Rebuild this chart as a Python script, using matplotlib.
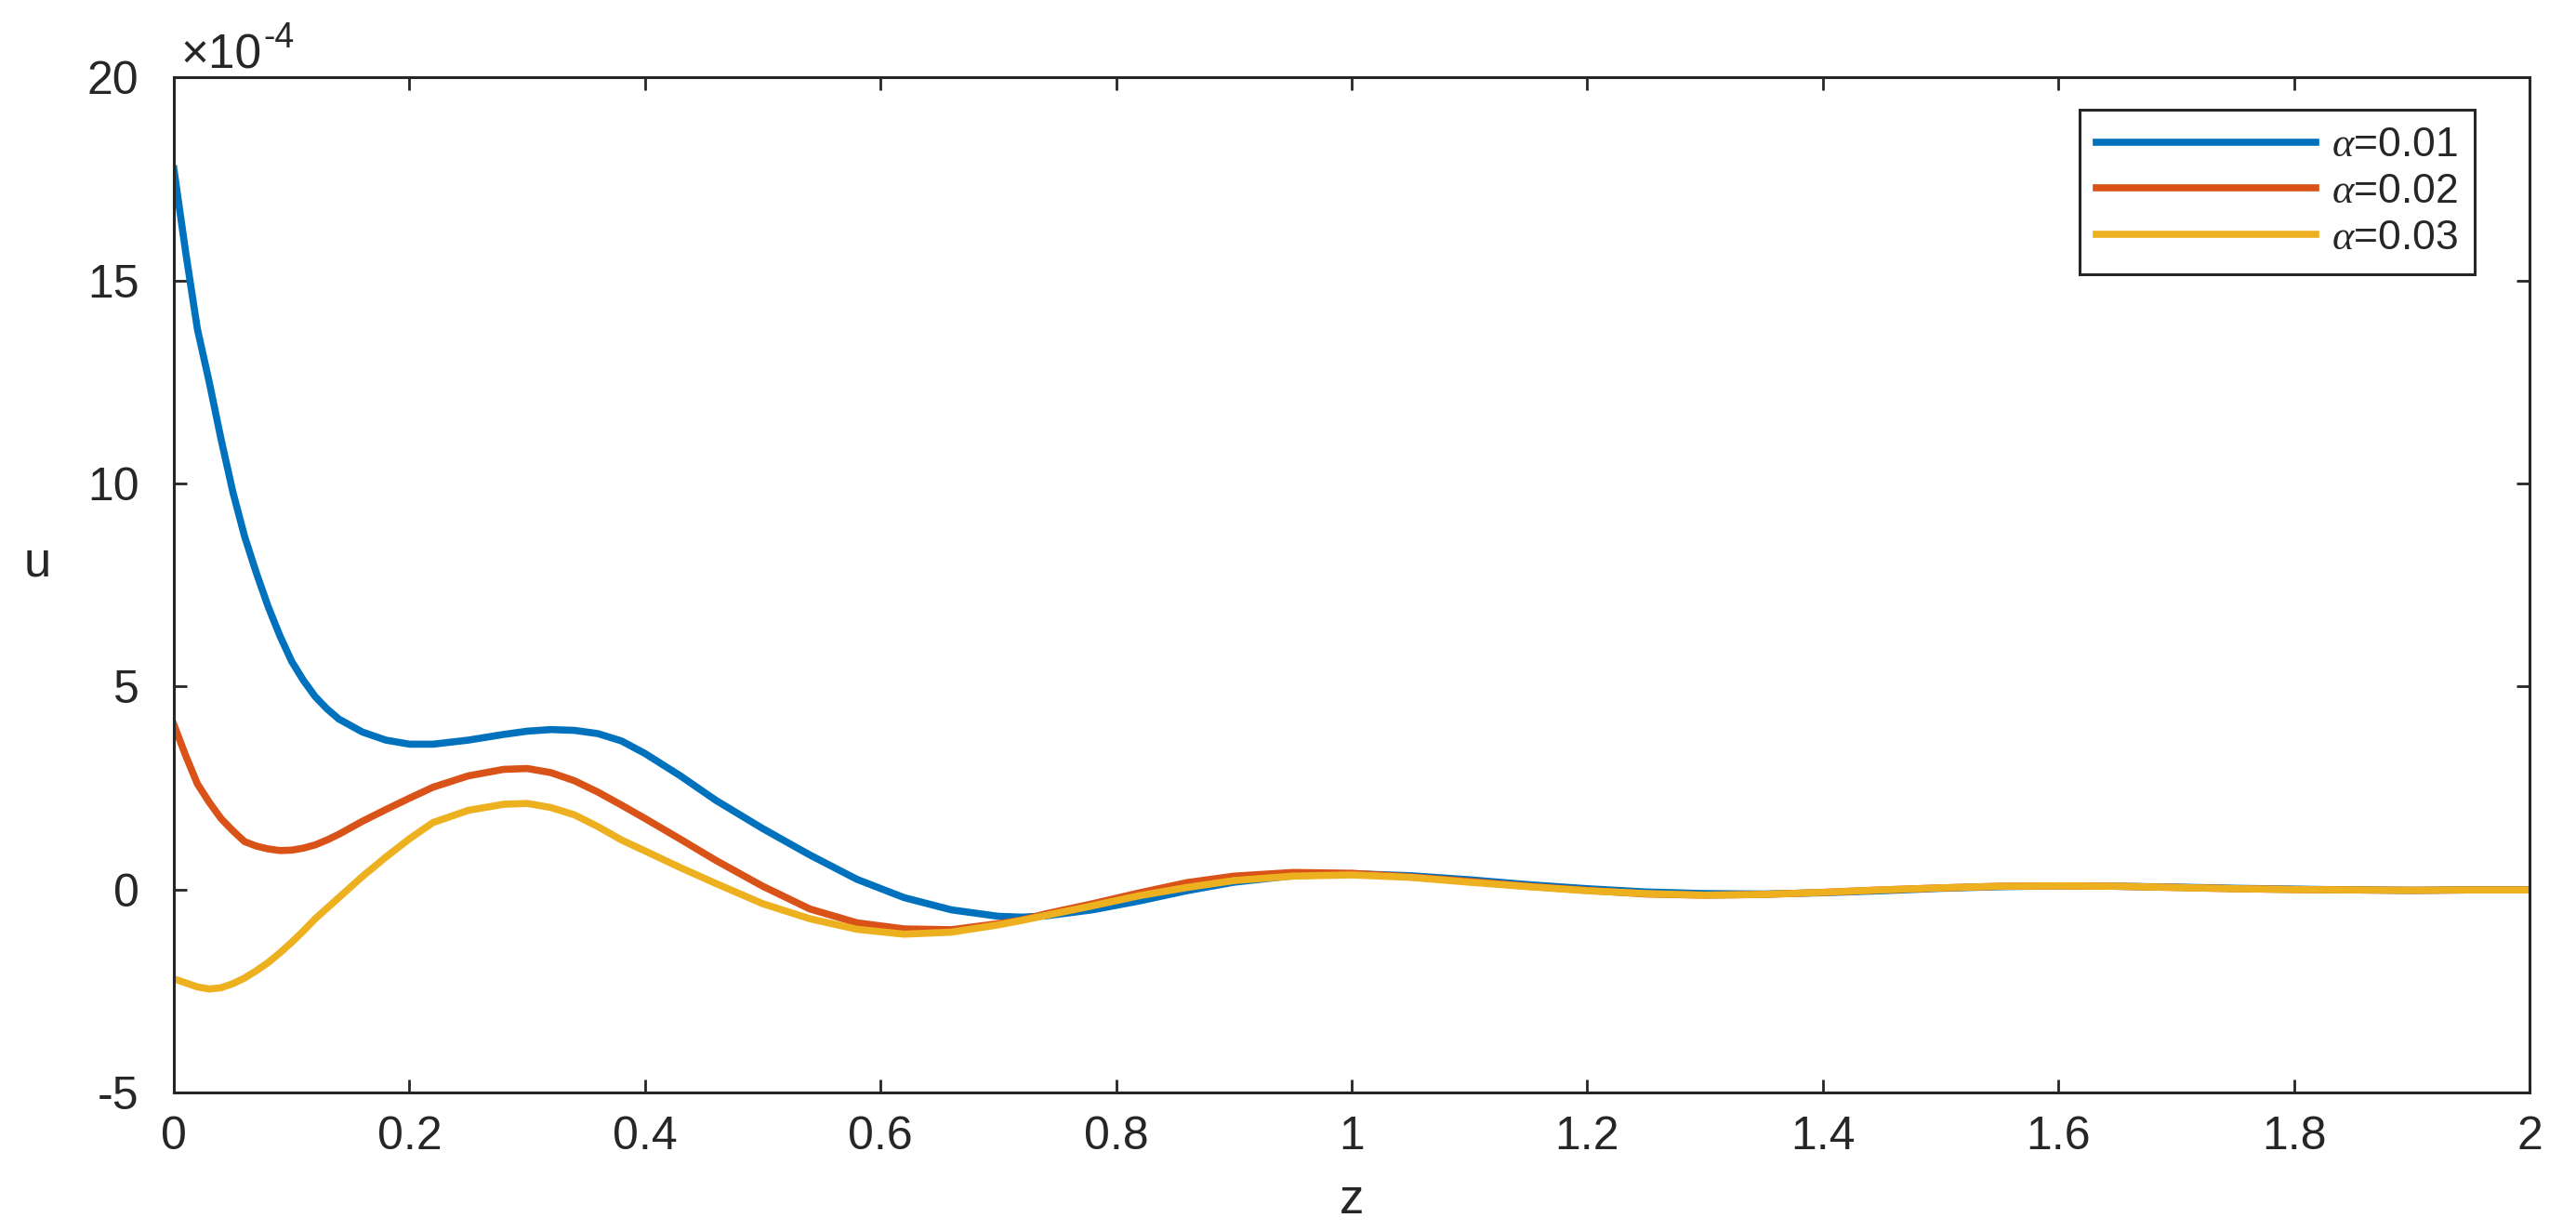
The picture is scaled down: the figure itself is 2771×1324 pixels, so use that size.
"""Damped response u(z) for three values of alpha, MATLAB-style figure."""
import matplotlib
matplotlib.use("Agg")
import matplotlib.pyplot as plt

z = [0.00, 0.01, 0.02, 0.03, 0.04, 0.05, 0.06, 0.07, 0.08, 0.09, 0.10, 0.11,
     0.12, 0.13, 0.14, 0.16, 0.18, 0.20, 0.22, 0.25, 0.28, 0.30, 0.32, 0.34,
     0.36, 0.38, 0.40, 0.43, 0.46, 0.50, 0.54, 0.58, 0.62, 0.66, 0.70, 0.72,
     0.74, 0.78, 0.82, 0.86, 0.90, 0.95, 1.00, 1.05, 1.10, 1.15, 1.20, 1.25,
     1.30, 1.35, 1.40, 1.45, 1.50, 1.55, 1.60, 1.65, 1.70, 1.75, 1.80, 1.85,
     1.90, 1.95, 2.00]

# u values in units of 1e-4
u_a001 = [17.75, 15.7, 13.8, 12.5, 11.1, 9.8, 8.7, 7.8, 6.97, 6.25, 5.62, 5.15,
          4.75, 4.45, 4.2, 3.88, 3.68, 3.58, 3.58, 3.68, 3.82, 3.9, 3.94, 3.92,
          3.84, 3.66, 3.35, 2.8, 2.2, 1.5, 0.85, 0.25, -0.2, -0.5, -0.66, -0.68,
          -0.65, -0.5, -0.28, -0.03, 0.18, 0.34, 0.39, 0.34, 0.24, 0.12, 0.02, -0.06,
          -0.1, -0.11, -0.08, -0.03, 0.03, 0.07, 0.09, 0.08, 0.06, 0.03, 0.01, -0.01,
          -0.02, -0.01, -0.01]
u_a002 = [4.06, 3.3, 2.6, 2.15, 1.75, 1.45, 1.18, 1.07, 1.0, 0.96, 0.97, 1.02,
          1.1, 1.22, 1.36, 1.68, 1.97, 2.25, 2.52, 2.8, 2.96, 2.98, 2.88, 2.68,
          2.4, 2.08, 1.75, 1.24, 0.72, 0.08, -0.48, -0.82, -0.97, -0.99, -0.84, -0.75,
          -0.6, -0.35, -0.08, 0.17, 0.33, 0.42, 0.40, 0.31, 0.2, 0.08, -0.02, -0.11,
          -0.14, -0.12, -0.07, -0.01, 0.04, 0.08, 0.09, 0.08, 0.05, 0.02, 0.0, -0.01,
          -0.02, -0.01, -0.01]
u_a003 = [-2.2, -2.3, -2.4, -2.45, -2.42, -2.32, -2.18, -2.0, -1.8, -1.56, -1.3, -1.02,
          -0.72, -0.46, -0.2, 0.32, 0.8, 1.25, 1.65, 1.95, 2.1, 2.12, 2.02, 1.84,
          1.55, 1.22, 0.95, 0.54, 0.15, -0.35, -0.72, -0.98, -1.1, -1.05, -0.87, -0.76,
          -0.64, -0.4, -0.15, 0.05, 0.22, 0.33, 0.36, 0.3, 0.18, 0.07, -0.03, -0.1,
          -0.14, -0.12, -0.07, -0.01, 0.04, 0.08, 0.09, 0.08, 0.05, 0.02, 0.0, -0.01,
          -0.02, -0.01, -0.01]

labels = [r"$\alpha$=0.01", r"$\alpha$=0.02", r"$\alpha$=0.03"]
colors = ["#0072BD", "#D95319", "#EDB120"]
x_ticks = [0, 0.2, 0.4, 0.6, 0.8, 1, 1.2, 1.4, 1.6, 1.8, 2]
x_tick_labels = ["0", "0.2", "0.4", "0.6", "0.8", "1", "1.2", "1.4", "1.6", "1.8", "2"]
y_ticks = [-5, 0, 5, 10, 15, 20]
y_tick_labels = ["-5", "0", "5", "10", "15", "20"]

ink = "#262626"

plt.rcParams["font.family"] = ["Liberation Sans", "DejaVu Sans"]
plt.rcParams["axes.unicode_minus"] = False
plt.rcParams["mathtext.fontset"] = "custom"
plt.rcParams["mathtext.rm"] = "Liberation Sans"
plt.rcParams["mathtext.it"] = "Liberation Serif:italic"

fig = plt.figure(figsize=(27.71, 13.24), dpi=100)
ax = fig.add_axes([0.0675, 0.1125, 0.9145, 0.8245])

# values are plotted in units of 1e-4; the exponent is drawn as its own label
for u, lab, col in zip([u_a001, u_a002, u_a003], labels, colors):
    ax.plot(z, u, color=col, linewidth=5.5, label=lab, solid_joinstyle="round")

ax.set_xlim(0, 2)
ax.set_ylim(-5, 20)
ax.set_xticks(x_ticks)
ax.set_xticklabels(x_tick_labels)
ax.set_yticks(y_ticks)
ax.set_yticklabels(y_tick_labels)

ax.tick_params(axis="both", direction="in", top=True, right=True,
               length=10, width=2, colors=ink, labelsize=36)
ax.tick_params(axis="x", pad=18)
ax.tick_params(axis="y", pad=27)
for side in ax.spines.values():
    side.set_linewidth(2.2)
    side.set_color(ink)

# exponent label "x10^-4" above the top-left corner
base = ax.text(0.003, 1.009, "\u00d710", transform=ax.transAxes, fontsize=37,
               color=ink, ha="left", va="baseline")
ax.annotate("-4", xy=(1, 1), xycoords=base, xytext=(1, 9), textcoords="offset points",
            fontsize=27, color=ink, ha="left", va="top")

ax.set_xlabel("z", fontsize=38, color=ink)
ax.xaxis.set_label_coords(0.5, -0.083)
ax.set_ylabel("u", fontsize=38, color=ink, rotation=0, va="center")
ax.yaxis.set_label_coords(-0.058, 0.522)

leg = ax.legend(loc="upper right", bbox_to_anchor=(0.9767, 0.968), borderaxespad=0,
                fontsize=32, handlelength=5.3, handletextpad=0.4, borderpad=0.4,
                labelspacing=0.2, fancybox=False, framealpha=1, edgecolor=ink)
leg.get_frame().set_linewidth(2.2)
for text in leg.get_texts():
    text.set_color(ink)

fig.savefig("out.png", dpi=100, facecolor="white")
